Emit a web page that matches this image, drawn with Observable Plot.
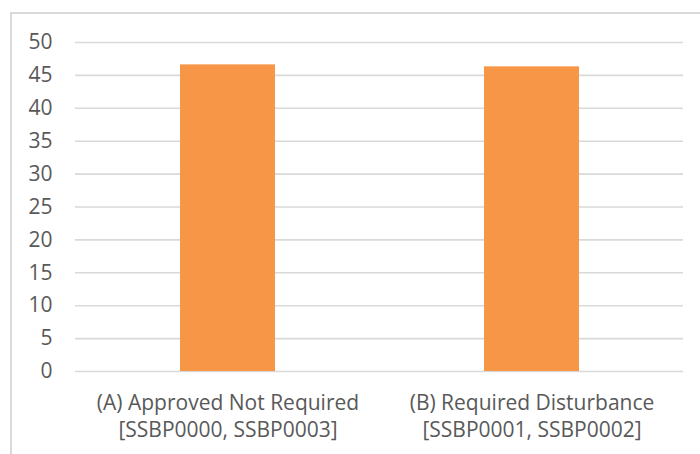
<!DOCTYPE html>
<html>
<head>
<meta charset="utf-8">
<script src="https://cdn.jsdelivr.net/npm/d3@7"></script>
<script src="https://cdn.jsdelivr.net/npm/@observablehq/plot@0.6"></script>
<style>
  html, body { margin: 0; padding: 0; background: #fff; }
  #wrap { position: relative; width: 700px; height: 454px; overflow: hidden; }
  #border { position: absolute; left: 10px; top: 12px; width: 720px; height: 480px; border: 2px solid #d9d9d9; box-sizing: border-box; pointer-events: none; }
</style>
</head>
<body>
<div id="wrap"><div id="border"></div></div>
<script>
const categories = ["(A) Approved Not Required", "(B) Required Disturbance"];
const codes = ["[SSBP0000, SSBP0003]", "[SSBP0001, SSBP0002]"];
const values = [46.6, 46.3];
const yTicks = [0, 5, 10, 15, 20, 25, 30, 35, 40, 45, 50];

const data = categories.map((c, i) => ({category: c, code: codes[i], value: values[i]}));

const chart = Plot.plot({
  width: 700,
  height: 454,
  marginLeft: 75,
  marginRight: 17,
  marginTop: 42,
  marginBottom: 83,
  style: {fontFamily: "'Open Sans', sans-serif", color: "#595959", background: "transparent"},
  x: {domain: categories, paddingInner: 0.6875, paddingOuter: 0.34375, align: 0.5},
  y: {domain: [0, 50]},
  marks: [
    Plot.gridY(yTicks, {stroke: "#d9d9d9", strokeOpacity: 1, strokeWidth: 1.6}),
    Plot.barY(data, {x: "category", y: "value", fill: "#F79646"}),
    Plot.axisY(yTicks, {tickSize: 0, tickPadding: 23, fontSize: 21, fill: "#595959", label: null}),
    Plot.axisX({tickSize: 0, tickPadding: 19, fontSize: 21, lineHeight: 1.3, fill: "#595959", label: null,
      tickFormat: (d) => d + "\n" + codes[categories.indexOf(d)]})
  ]
});
document.getElementById("wrap").appendChild(chart);
chart.style.position = "absolute";
chart.style.left = "0";
chart.style.top = "0";
</script>
</body>
</html>
